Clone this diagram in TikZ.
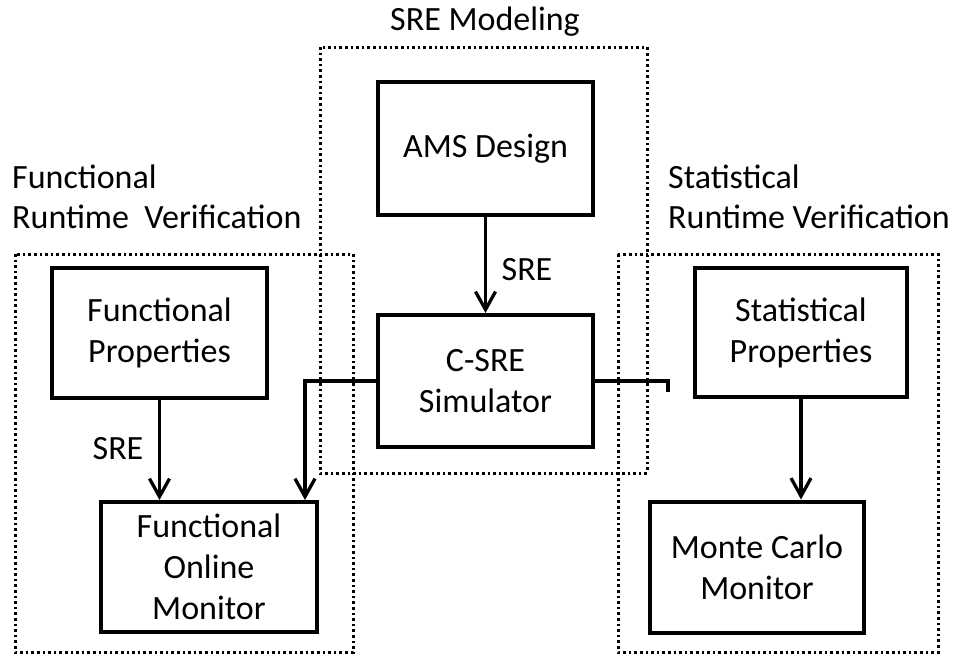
\documentclass[tikz,border=0pt]{standalone}
\usepackage{fontspec}
\setmainfont{Carlito}
\usetikzlibrary{arrows.meta}
\begin{document}
\begin{tikzpicture}[x=1pt,y=-1pt,
 blk/.style={draw, line width=4pt, align=center, inner sep=0pt, font=\fontsize{34}{41}\selectfont},
 grp/.style={draw, line width=3pt, dash pattern=on 2.6pt off 3pt},
 lbl/.style={inner sep=0pt, font=\fontsize{34}{41}\selectfont},
 arr/.style={line width=3.3pt, -{Straight Barb[length=18pt,width=20pt,line width=3.3pt]}},
 ln/.style={line width=3.3pt}]
\useasboundingbox (0,0) rectangle (959,662);
% group boxes
\draw[grp] (320,47) rectangle (647,473);
\draw[grp] (15,254) rectangle (353,652);
\draw[grp] (618,254) rectangle (938,652);
% group titles
\node[lbl, anchor=base] (hm) at (485,30) {SRE Modeling};
\node[lbl, anchor=base west] (hl1) at (12,188) {Functional};
\node[lbl, anchor=base west] (hl2) at (12,228) {Runtime\ \ Verification};
\node[lbl, anchor=base west] (hr1) at (668,188) {Statistical};
\node[lbl, anchor=base west] (hr2) at (668,228) {Runtime Verification};
% blocks
\node[blk, minimum width=215pt, minimum height=133pt] (ams) at (485.5,148.5) {AMS Design};
\node[blk, minimum width=215pt, minimum height=132pt] (csre) at (485.5,381) {C-SRE\\Simulator};
\node[blk, minimum width=215pt, minimum height=130pt] (fp) at (159.5,333) {Functional\\Properties};
\node[blk, minimum width=216pt, minimum height=130pt] (fom) at (209,567) {Functional\\Online\\Monitor};
\node[blk, minimum width=212pt, minimum height=129pt] (sp) at (801,332.5) {Statistical\\Properties};
\node[blk, minimum width=214pt, minimum height=131pt] (mcm) at (757,567) {Monte Carlo\\Monitor};
% connector labels
\node[lbl] (s1) at (527,270) {SRE};
\node[lbl] (s2) at (118,449) {SRE};
% connectors
\coordinate (bendL) at (305,0);
\coordinate (endR) at (668,392);
\draw[arr] (ams) -- (csre);
\draw[arr] (fp) -- (fp.south |- fom.north);
\draw[arr] (sp) -- (sp.south |- mcm.north);
\draw[arr] (csre.west) -| (fom.north -| bendL);
\draw[ln] (csre.east) -| (endR);
\end{tikzpicture}
\end{document}
